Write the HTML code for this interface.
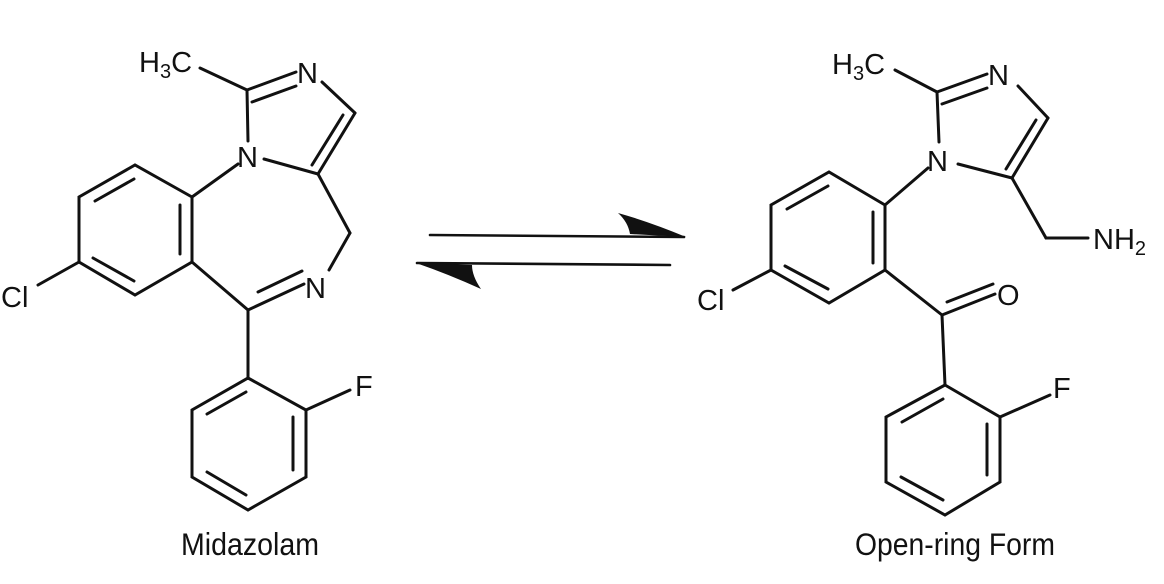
<!DOCTYPE html>
<html><head><style>
html,body{margin:0;padding:0;background:#fff;}
svg{display:block;}
text{font-family:"Liberation Sans",sans-serif;fill:#111;}
.lab{font-family:"Liberation Sans Narrow","Liberation Sans",sans-serif;font-size:25px;}
</style></head><body>
<svg width="1164" height="584" viewBox="0 0 1164 584" xmlns="http://www.w3.org/2000/svg">
<g stroke="#111" stroke-width="3" fill="none" stroke-linecap="round">
<!-- LEFT: Midazolam -->
<line x1="200" y1="68" x2="247" y2="90"/>
<line x1="247" y1="90" x2="296" y2="72"/>
<line x1="252" y1="102" x2="296" y2="86"/>
<line x1="322" y1="82" x2="355" y2="113"/>
<line x1="355" y1="113" x2="318" y2="174"/>
<line x1="343" y1="115" x2="312" y2="165"/>
<line x1="318" y1="174" x2="264" y2="159"/>
<line x1="247" y1="90" x2="248" y2="141"/>
<line x1="318" y1="174" x2="350" y2="233"/>
<line x1="350" y1="233" x2="329" y2="270"/>
<line x1="304" y1="284" x2="248" y2="310"/>
<line x1="302" y1="271" x2="258" y2="292"/>
<line x1="238" y1="164" x2="192" y2="197"/>
<polyline points="192,197 135,165 79,197 79,262 135,295 192,262 192,197"/>
<line x1="134" y1="179" x2="95" y2="201"/>
<line x1="93" y1="258" x2="134" y2="281"/>
<line x1="180" y1="205" x2="180" y2="254"/>
<line x1="192" y1="262" x2="248" y2="310"/>
<line x1="79" y1="262" x2="38" y2="285"/>
<line x1="248" y1="310" x2="248" y2="378"/>
<polygon points="248,378 306,410 306,477 248,510 192,477 192,410"/>
<line x1="246" y1="392" x2="207" y2="414"/>
<line x1="293" y1="417" x2="293" y2="470"/>
<line x1="207" y1="472" x2="246" y2="495"/>
<line x1="306" y1="410" x2="350" y2="390"/>

<!-- RIGHT: Open-ring -->
<line x1="895" y1="70" x2="937" y2="92"/>
<line x1="937" y1="92" x2="987" y2="74"/>
<line x1="942" y1="104" x2="987" y2="88"/>
<line x1="1018" y1="86" x2="1048" y2="118"/>
<line x1="1048" y1="118" x2="1012" y2="178"/>
<line x1="1036" y1="120" x2="1006" y2="169"/>
<line x1="1012" y1="178" x2="958" y2="164"/>
<line x1="937" y1="92" x2="939" y2="142"/>
<line x1="1012" y1="178" x2="1046" y2="238"/>
<line x1="1046" y1="238" x2="1088" y2="238"/>
<line x1="928" y1="168" x2="885" y2="205"/>
<polyline points="885,205 829,172 771,205 771,270 829,303 885,270 885,205"/>
<line x1="828" y1="186" x2="787" y2="209"/>
<line x1="785" y1="266" x2="828" y2="289"/>
<line x1="873" y1="212" x2="873" y2="263"/>
<line x1="771" y1="270" x2="733" y2="290"/>
<line x1="885" y1="270" x2="942" y2="315"/>
<line x1="942" y1="315" x2="995" y2="294"/>
<line x1="947" y1="302" x2="993" y2="284"/>
<line x1="942" y1="315" x2="945" y2="385"/>
<polygon points="945,385 1000,417 1000,482 945,515 886,482 886,417"/>
<line x1="943" y1="399" x2="902" y2="422"/>
<line x1="987" y1="424" x2="987" y2="475"/>
<line x1="901" y1="477" x2="943" y2="500"/>
<line x1="1000" y1="417" x2="1050" y2="395"/>

<line x1="430" y1="235" x2="684" y2="237" stroke-width="2.6"/>
<line x1="417" y1="263" x2="670" y2="265" stroke-width="2.6"/>
</g>
<path d="M618,213 Q628,222 630,234 L686,237 Q650,222 618,213 Z" fill="#111"/>
<path d="M416,263 L472,265 Q472,276 481,289 Q448,274 416,263 Z" fill="#111"/>

<g font-size="29">
<text x="139" y="72">H<tspan font-size="20" dy="6">3</tspan><tspan dy="-6">C</tspan></text>
<text x="297" y="83">N</text>
<text x="237" y="167">N</text>
<text x="305" y="298">N</text>
<text x="1" y="307">Cl</text>
<text x="355" y="396">F</text>
<text x="832" y="74">H<tspan font-size="20" dy="6">3</tspan><tspan dy="-6">C</tspan></text>
<text x="988" y="85">N</text>
<text x="927" y="171">N</text>
<text x="1093" y="249">NH<tspan font-size="20" dy="6">2</tspan></text>
<text x="697" y="310">Cl</text>
<text x="997" y="305">O</text>
<text x="1053" y="398">F</text>
</g>
<g transform="translate(0,555) scale(1,1.25)">
<text class="lab" x="250" y="0" text-anchor="middle" textLength="138" lengthAdjust="spacingAndGlyphs">Midazolam</text>
<text class="lab" x="955" y="0" text-anchor="middle" textLength="200" lengthAdjust="spacingAndGlyphs">Open-ring Form</text>
</g>
</svg>
</body></html>
